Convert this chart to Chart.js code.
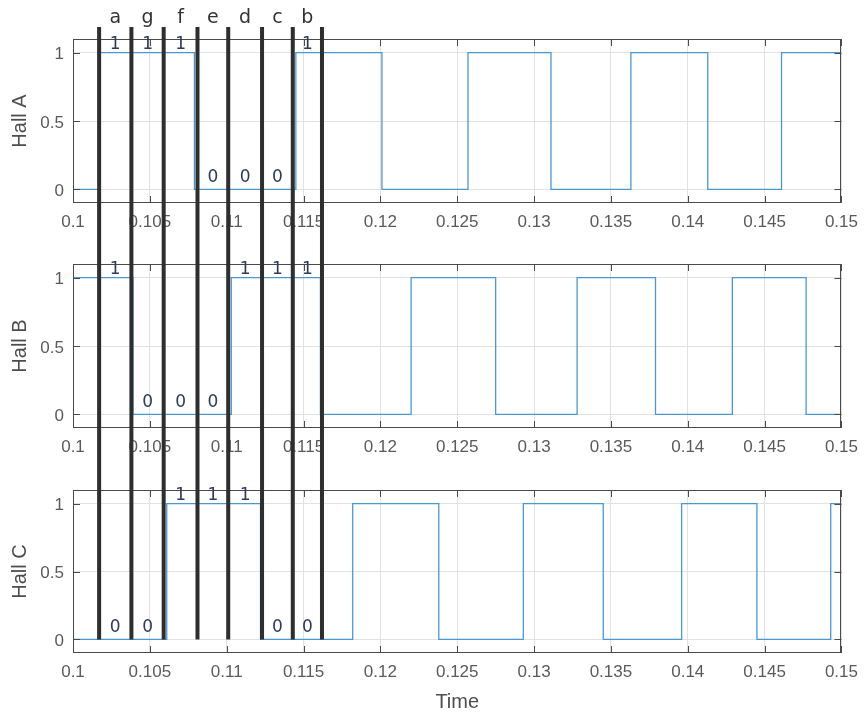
<!DOCTYPE html>
<html lang="en">
<head>
<meta charset="UTF-8">
<title>Hall sensor signals</title>
<script src="https://cdn.jsdelivr.net/npm/chart.js"></script>
<style>
  body { margin: 0; background: #fff; }
  .wrap { position: relative; width: 867px; height: 717px; }
  canvas { position: absolute; left: 0; }
</style>
</head>
<body>
<div class="wrap">
  <canvas id="hallA" width="867" height="233" style="top:0px"></canvas>
  <canvas id="hallB" width="867" height="225" style="top:233px"></canvas>
  <canvas id="hallC" width="867" height="259" style="top:458px"></canvas>
</div>
<script>
// signal data
const hallATime  = [0.1, 0.1017, 0.1079, 0.1145, 0.1201, 0.1257, 0.1311, 0.1363, 0.1413, 0.1461, 0.15];
const hallAValue = [0,   1,      0,      1,      0,      1,      0,      1,      0,      1,      1];

const hallBTime  = [0.1, 0.1039, 0.1103, 0.1161, 0.1220, 0.1275, 0.1328, 0.1379, 0.1429, 0.1477, 0.15];
const hallBValue = [1,   0,      1,      0,      1,      0,      1,      0,      1,      0,      0];

const hallCTime  = [0.1, 0.1061, 0.1122, 0.1182, 0.1238, 0.1293, 0.1345, 0.1396, 0.1445, 0.1493, 0.15];
const hallCValue = [0,   1,      0,      1,      0,      1,      0,      1,      0,      1,      1];

// sector markers (black lines) and the state of each sensor inside each sector
const sectorEdges = [0.1017, 0.1038, 0.1059, 0.1081, 0.1101, 0.1123, 0.1143, 0.1162];
const sectorNames = ['a', 'g', 'f', 'e', 'd', 'c', 'b'];
const hallAStates = [1, 1, 1, 0, 0, 0, 1];
const hallBStates = [1, 0, 0, 0, 1, 1, 1];
const hallCStates = [0, 0, 1, 1, 1, 0, 0];

const xTickValues = [0.1, 0.105, 0.11, 0.115, 0.12, 0.125, 0.13, 0.135, 0.14, 0.145, 0.15];
const yTickValues = [0, 0.5, 1];

const axisFont = 'Liberation Sans, Arial, sans-serif';
const noteFont = 'DejaVu Sans, sans-serif';

// box, inward ticks, sector lines and the 1/0 notes
const scopePlugin = {
  id: 'scope',
  afterDraw(chart, args, opts) {
    const ctx = chart.ctx;
    const a = chart.chartArea;
    const x = chart.scales.x, y = chart.scales.y;
    ctx.save();

    // frame + ticks pointing inside
    ctx.strokeStyle = '#4a4a4a';
    ctx.lineWidth = 1;
    ctx.strokeRect(Math.round(a.left) + 0.5, Math.round(a.top) + 0.5,
                   Math.round(a.width) - 1, Math.round(a.height) - 1);
    ctx.beginPath();
    x.ticks.forEach(t => {
      const px = Math.round(x.getPixelForValue(t.value)) + 0.5;
      ctx.moveTo(px, a.bottom); ctx.lineTo(px, a.bottom - 7);
      ctx.moveTo(px, a.top);    ctx.lineTo(px, a.top + 7);
    });
    y.ticks.forEach(t => {
      const py = Math.round(y.getPixelForValue(t.value)) + 0.5;
      ctx.moveTo(a.left, py);  ctx.lineTo(a.left + 7, py);
      ctx.moveTo(a.right, py); ctx.lineTo(a.right - 7, py);
    });
    ctx.stroke();

    // thick black sector lines, continued across the canvases
    const top = opts.lineTop;
    const bottom = opts.stopAtZero ? y.getPixelForValue(0) : chart.height;
    ctx.strokeStyle = '#2e2e2e';
    ctx.lineWidth = 4;
    ctx.beginPath();
    sectorEdges.forEach(v => {
      const px = x.getPixelForValue(v);
      ctx.moveTo(px, top); ctx.lineTo(px, bottom);
    });
    ctx.stroke();

    // sector letters on top
    if (opts.letters) {
      ctx.fillStyle = '#333';
      ctx.font = '19px ' + noteFont;
      ctx.textAlign = 'center';
      ctx.textBaseline = 'alphabetic';
      sectorNames.forEach((n, i) => {
        const mid = (x.getPixelForValue(sectorEdges[i]) + x.getPixelForValue(sectorEdges[i + 1])) / 2;
        ctx.fillText(n, mid, 23);
      });
    }

    // 1 / 0 state in each sector
    ctx.fillStyle = '#2f3a5c';
    ctx.font = '17px ' + noteFont;
    ctx.textAlign = 'center';
    ctx.textBaseline = 'middle';
    opts.states.forEach((s, i) => {
      const mid = (x.getPixelForValue(sectorEdges[i]) + x.getPixelForValue(sectorEdges[i + 1])) / 2;
      const py = y.getPixelForValue(s) - (s === 1 ? 8.5 : 12);
      ctx.fillText(String(s), mid, py);
    });
    ctx.restore();
  }
};

function makeHall(id, times, values, states, label, cfg) {
  const pts = times.map((t, i) => ({ x: t, y: values[i] }));
  return new Chart(document.getElementById(id), {
    type: 'line',
    data: {
      datasets: [{
        data: pts,
        stepped: 'before',
        borderColor: '#4a98d0',
        borderWidth: 1.3,
        pointRadius: 0,
        fill: false
      }]
    },
    options: {
      responsive: false,
      animation: false,
      devicePixelRatio: 1,
      layout: { padding: { top: cfg.padTop, right: 21, left: 0, bottom: 0 } },
      plugins: {
        legend: { display: false },
        tooltip: { enabled: false },
        scope: { states: states, lineTop: cfg.lineTop, stopAtZero: cfg.stopAtZero, letters: cfg.letters }
      },
      scales: {
        x: {
          type: 'linear',
          min: 0.1,
          max: 0.15,
          afterBuildTicks: s => { s.ticks = xTickValues.map(v => ({ value: v })); },
          afterFit: s => { s.height = cfg.xHeight; },
          ticks: {
            padding: 9,
            maxRotation: 0,
            autoSkip: false,
            color: '#5a5a5a',
            font: { family: axisFont, size: 17 },
            callback: v => String(Number(v.toFixed(3)))
          },
          grid: { color: '#e2e2e2', drawTicks: false },
          border: { display: false },
          title: {
            display: !!cfg.xTitle,
            text: cfg.xTitle || '',
            color: '#4d4d4d',
            font: { family: axisFont, size: 20 },
            padding: { top: 0, bottom: 3 }
          }
        },
        y: {
          min: -0.1,
          max: 1.1,
          afterBuildTicks: s => { s.ticks = yTickValues.map(v => ({ value: v })); },
          afterFit: s => { s.width = 73; },
          ticks: {
            padding: 9,
            labelOffset: 2,
            color: '#5a5a5a',
            font: { family: axisFont, size: 17 },
            callback: v => String(v)
          },
          grid: { color: '#e2e2e2', drawTicks: false },
          border: { display: false },
          title: {
            display: true,
            text: label,
            color: '#4d4d4d',
            font: { family: axisFont, size: 20 },
            padding: { top: 8, bottom: 0 }
          }
        }
      }
    },
    plugins: [scopePlugin]
  });
}

makeHall('hallA', hallATime, hallAValue, hallAStates, 'Hall A',
  { padTop: 39, xHeight: 30, lineTop: 27, stopAtZero: false, letters: true });
makeHall('hallB', hallBTime, hallBValue, hallBStates, 'Hall B',
  { padTop: 31, xHeight: 30, lineTop: 0, stopAtZero: false, letters: false });
makeHall('hallC', hallCTime, hallCValue, hallCStates, 'Hall C',
  { padTop: 32, xHeight: 64, lineTop: 0, stopAtZero: true, letters: false, xTitle: 'Time' });
</script>
</body>
</html>
